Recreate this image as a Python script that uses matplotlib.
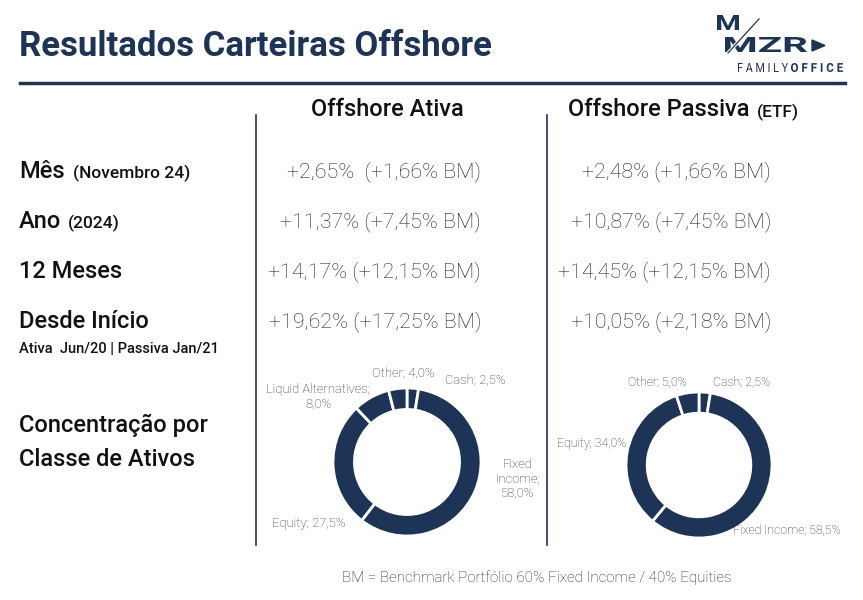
import matplotlib.pyplot as plt
from matplotlib.textpath import TextPath
from matplotlib.patches import PathPatch
from matplotlib.font_manager import FontProperties
import matplotlib.transforms as mtransforms

W, H = 863, 600
NAVY = '#1d3456'
GREY = '#222222'
plt.rcParams['font.family'] = ['Roboto', 'DejaVu Sans']

# table data
rows = ['Mês', 'Ano', '12 Meses', 'Desde Início']
row_notes = ['(Novembro 24)', '(2024)', '', '']
ativa = ['+2,65%  (+1,66% BM)', '+11,37% (+7,45% BM)', '+14,17% (+12,15% BM)', '+19,62% (+17,25% BM)']
passiva = ['+2,48% (+1,66% BM)', '+10,87% (+7,45% BM)', '+14,45% (+12,15% BM)', '+10,05% (+2,18% BM)']

# allocation data (clockwise from 12 o'clock)
ativa_classes = ['Cash', 'Fixed Income', 'Equity', 'Liquid Alternatives', 'Other']
ativa_pct = [2.5, 58.0, 27.5, 8.0, 4.0]
passiva_classes = ['Cash', 'Fixed Income', 'Equity', 'Other']
passiva_pct = [2.5, 58.5, 34.0, 5.0]

fig = plt.figure(figsize=(W / 100, H / 100), dpi=100)
px = mtransforms.Affine2D().scale(1 / W, 1 / H) + fig.transFigure


def T(x, y, s, **kw):
    kw.setdefault('va', 'center')
    return fig.text(x / W, 1 - y / H, s, **kw)


def hline(x0, x1, y, **kw):
    fig.add_artist(plt.Line2D([x0 / W, x1 / W], [1 - y / H, 1 - y / H], **kw))


def vline(x, y0, y1, **kw):
    fig.add_artist(plt.Line2D([x / W, x / W], [1 - y0 / H, 1 - y1 / H], **kw))


def boxed_text(s, x0, x1, ytop, ybot, weight='bold'):
    # stretch a text outline into a pixel box (used for the logo lettering)
    tp = TextPath((0, 0), s, size=1, prop=FontProperties(family='Roboto', weight=weight))
    ext = tp.get_extents()
    tr = (mtransforms.Affine2D()
          .translate(-ext.x0, -ext.y0)
          .scale((x1 - x0) / ext.width, (ybot - ytop) / ext.height)
          .translate(x0, H - ybot)) + px
    fig.add_artist(PathPatch(tp, transform=tr, color=NAVY, lw=0))


# header
T(19, 47, 'Resultados Carteiras Offshore', fontsize=25, fontweight='bold', color=NAVY)
hline(20, 845, 83, color=NAVY, lw=2.5)

# logo
boxed_text('M', 717, 739, 15, 30)
boxed_text('MZR', 725, 807, 37, 52)
fig.add_artist(plt.Line2D([728, 759], [H - 53, H - 19], transform=px, color='white', lw=2.5))
fig.add_artist(plt.Line2D([728, 759], [H - 53, H - 19], transform=px, color=NAVY, lw=0.9))
fig.add_artist(plt.Polygon([[812, H - 40], [812, H - 51], [825, H - 45.5]], color=NAVY, transform=px))
boxed_text('F A M I L Y', 738, 788, 63, 72, weight='normal')
boxed_text('O F F I C E', 791, 843, 63, 72, weight='bold')

# column headers
T(387, 110, 'Offshore Ativa', fontsize=17, fontweight='medium', color='#111', ha='center')
T(568, 110, 'Offshore Passiva', fontsize=17, fontweight='medium', color='#111')
T(757, 112, '(ETF)', fontsize=12.5, fontweight='medium', color='#111')

vline(256, 115, 545, color=NAVY, lw=1.2)
vline(547, 115, 545, color=NAVY, lw=1.2)

# rows
note_x = [73, 68]
for i, (r, n) in enumerate(zip(rows, row_notes)):
    y = 172 + 50 * i
    T(19, y, r, fontsize=17, fontweight='medium', color='#111')
    if n:
        T(note_x[i], y + 1, n, fontsize=12.5, fontweight='medium', color='#111')
    T(481, y, ativa[i], fontsize=15.4, fontweight='light', color=GREY, ha='right')
    T(771, y, passiva[i], fontsize=15.4, fontweight='light', color=GREY, ha='right')
T(19, 349, 'Ativa  Jun/20 | Passiva Jan/21', fontsize=10.5, fontweight='medium', color='#111')

T(19, 425, 'Concentração por', fontsize=17, fontweight='medium', color='#111')
T(19, 459, 'Classe de Ativos', fontsize=17, fontweight='medium', color='#111')


def donut(cx, cy, r, values):
    ax = fig.add_axes([(cx - r) / W, 1 - (cy + r) / H, 2 * r / W, 2 * r / H])
    ax.pie(values, startangle=90, counterclock=False, radius=1,
           colors=[NAVY] * len(values),
           wedgeprops=dict(width=0.29, edgecolor='white', linewidth=2))
    ax.set_xlim(-1, 1)
    ax.set_ylim(-1, 1)
    ax.set_aspect('equal')
    ax.axis('off')


def pct(v):
    return f'{v:.1f}%'.replace('.', ',')


donut(407, 462, 74, ativa_pct)
donut(699, 465, 73, passiva_pct)

lab = dict(fontsize=9.4, fontweight='light', color='#333')
# left donut labels
a = dict(zip(ativa_classes, ativa_pct))
T(403, 373, f'Other; {pct(a["Other"])}', ha='center', **lab)
T(445, 380, f'Cash; {pct(a["Cash"])}', **lab)
T(318, 397, f'Liquid Alternatives;\n{pct(a["Liquid Alternatives"])}', ha='center',
  multialignment='center', linespacing=1.1, **lab)
T(518, 479, f'Fixed\nIncome;\n{pct(a["Fixed Income"])}', ha='center',
  multialignment='center', linespacing=1.1, **lab)
T(272, 524, f'Equity; {pct(a["Equity"])}', **lab)

# right donut labels (slightly smaller in the original)
lab['fontsize'] = 8.8
p = dict(zip(passiva_classes, passiva_pct))
T(628, 382, f'Other; {pct(p["Other"])}', **lab)
T(713, 382, f'Cash; {pct(p["Cash"])}', **lab)
T(557, 443, f'Equity; {pct(p["Equity"])}', **lab)
T(733, 530, f'Fixed Income; {pct(p["Fixed Income"])}', **lab)

# footer
T(537, 578, 'BM = Benchmark Portfólio 60% Fixed Income / 40% Equities', fontsize=10.9,
  fontweight='light', color='#222', ha='center')

fig.savefig('out.png', dpi=100)
